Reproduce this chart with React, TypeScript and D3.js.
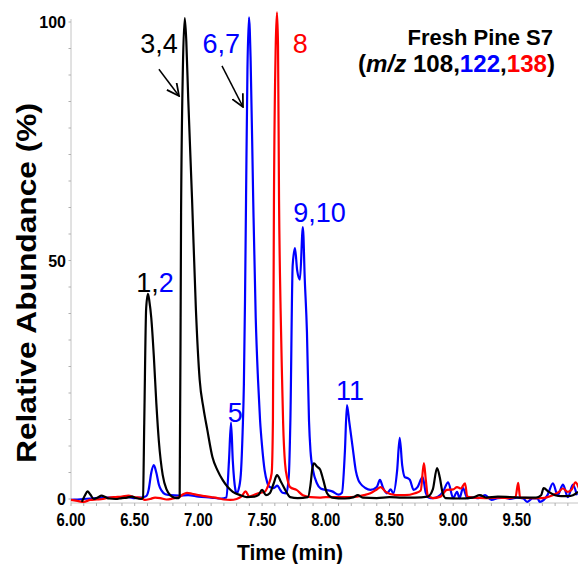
import * as d3 from "d3";

const W = 578;
const H = 564;

// m/z 108 trace (black): [time (min), relative abundance (%)]
const mz108: [number, number][] = [
  [6.085, -0.6], [6.11, 0.8], [6.13, 1.6], [6.15, 1.0], [6.18, 0.0], [6.21, 0.3], [6.24, 0.7],
  [6.27, 0.4], [6.30, 0.1], [6.35, 0.0], [6.40, 0.2], [6.44, 0.3], [6.48, 0.5], [6.51, 0.2],
  [6.55, 0.0], [6.565, 0.3], [6.575, 16], [6.59, 40], [6.604, 43], [6.615, 41.5], [6.63, 38],
  [6.65, 30], [6.67, 20], [6.69, 12], [6.72, 5], [6.75, 2], [6.78, 0.8], [6.81, 0.3],
  [6.845, 0.2], [6.853, 0.5], [6.864, 60], [6.878, 90], [6.893, 100.8], [6.905, 96],
  [6.92, 84], [6.95, 63], [6.98, 40], [7.01, 25], [7.04, 19], [7.07, 14.5], [7.11, 8.8],
  [7.15, 6], [7.19, 4], [7.23, 2.5], [7.27, 1.5], [7.33, 0.8], [7.38, 0.4], [7.44, 0.5],
  [7.47, 0.8], [7.50, 1.9], [7.53, 0.8], [7.56, 1.2], [7.59, 3.2], [7.617, 5], [7.65, 3.5],
  [7.69, 1.5], [7.72, 0.4], [7.78, 0.2], [7.86, 0.4], [7.88, 3], [7.895, 6.5], [7.907, 7.5],
  [7.93, 6.8], [7.955, 6.2], [7.98, 4], [8.01, 1.2], [8.05, 0.3], [8.15, 0.1], [8.22, 0.4],
  [8.25, 0.8], [8.29, 0.3], [8.40, 0.2], [8.50, 0.4], [8.60, 0.3], [8.70, 0.3], [8.80, 0.5],
  [8.84, 2], [8.873, 6.5], [8.895, 4.5], [8.915, 1.5], [8.94, 0.2], [9.05, 0.1], [9.15, 0.3],
  [9.21, 0.8], [9.26, 0.3], [9.35, 0.5], [9.45, 0.4], [9.55, 0.3], [9.65, 0.3], [9.69, 0.8],
  [9.71, 2.3], [9.75, 1.5], [9.80, 0.8], [9.85, 0.6], [9.90, 0.6], [9.94, 0.8], [9.98, 1.5],
];

// m/z 122 trace (blue)
const mz122: [number, number][] = [
  [6.00, -0.2], [6.05, -0.1], [6.10, 0], [6.15, 0.1], [6.20, 0.2], [6.25, 0.3], [6.30, 0.3],
  [6.35, 0.2], [6.40, 0.3], [6.45, 0.4], [6.50, 0.2], [6.55, 0.3], [6.59, 0.6], [6.61, 2],
  [6.63, 5.5], [6.65, 7.1], [6.67, 5.5], [6.69, 3], [6.71, 1.8], [6.74, 1], [6.78, 0.8],
  [6.85, 0.7], [6.92, 0.8], [7.00, 0.5], [7.10, 0.3], [7.18, 0.1], [7.22, 0.3], [7.24, 8],
  [7.256, 16], [7.27, 8], [7.29, 2], [7.30, 1.2], [7.32, 2.5], [7.335, 6], [7.347, 14],
  [7.357, 24], [7.366, 42], [7.374, 63], [7.385, 90], [7.397, 101], [7.41, 92], [7.43, 63],
  [7.45, 38], [7.468, 25], [7.484, 16.5], [7.50, 11], [7.52, 6], [7.54, 3.5], [7.56, 2.5],
  [7.59, 2.3], [7.62, 2.8], [7.64, 2.0], [7.66, 1.3], [7.69, 1.2], [7.71, 5], [7.722, 16.5],
  [7.74, 49], [7.758, 52.6], [7.775, 48], [7.797, 46], [7.82, 57], [7.835, 46], [7.852, 35],
  [7.868, 16.5], [7.88, 10], [7.90, 6], [7.93, 3.3], [7.96, 2.2], [8.00, 1.9], [8.05, 1.6],
  [8.10, 0.9], [8.127, 1.3], [8.15, 10], [8.166, 19.7], [8.185, 16], [8.21, 11], [8.235, 6],
  [8.255, 4], [8.27, 3.3], [8.31, 2.3], [8.35, 1.9], [8.40, 2.5], [8.425, 4], [8.45, 2.3],
  [8.48, 1.2], [8.51, 2], [8.53, 1.2], [8.56, 6], [8.58, 12.8], [8.60, 7], [8.62, 4.6],
  [8.64, 4.4], [8.66, 4], [8.69, 1.9], [8.72, 2.5], [8.76, 4.6], [8.785, 1.3], [8.81, 0.3],
  [8.84, 0.2], [8.88, 0.5], [8.92, 1.5], [8.96, 3.5], [9.00, 0.2], [9.03, 1.5], [9.05, 0.2],
  [9.077, 2.3], [9.11, 0.2], [9.15, 0.3], [9.20, 0.2], [9.25, 0.8], [9.30, -0.2], [9.35, 0.2],
  [9.40, 0.3], [9.45, 0], [9.50, 0.3], [9.55, 0.1], [9.58, -0.6], [9.62, 0.1], [9.66, 0.2],
  [9.68, -0.6], [9.74, 0.8], [9.783, 3.3], [9.82, 0.8], [9.862, 3], [9.90, 0.4], [9.94, 3],
  [9.97, 0.8],
];

// m/z 138 trace (red)
const mz138: [number, number][] = [
  [6.00, -0.2], [6.05, -0.4], [6.10, -0.6], [6.15, -0.2], [6.20, -0.1], [6.25, 0], [6.30, 0.3],
  [6.35, 0.4], [6.40, 0.5], [6.45, 0.7], [6.50, 0.4], [6.55, 0.2], [6.58, -0.2], [6.62, 0],
  [6.66, 0.3], [6.70, 0.2], [6.75, -0.1], [6.80, 0.1], [6.85, 0.4], [6.88, 1.0], [6.91, 1.3],
  [6.95, 1.1], [7.00, 0.8], [7.05, 0.6], [7.10, 0.4], [7.15, 0.2], [7.20, -0.1], [7.25, -0.2],
  [7.30, 0], [7.34, 0.6], [7.37, 1.6], [7.40, 0.5], [7.43, 0.8], [7.47, 1.2], [7.52, 1.5],
  [7.55, 3], [7.575, 5.4], [7.585, 16.5], [7.593, 62.7], [7.607, 95], [7.617, 102],
  [7.625, 95], [7.633, 62.7], [7.645, 40], [7.657, 25], [7.665, 16], [7.68, 7.5], [7.70, 4],
  [7.72, 2.5], [7.77, 1.9], [7.82, 0.8], [7.88, 0.4], [7.95, 0.3], [8.00, 0.4], [8.10, 0.4],
  [8.20, 0.4], [8.30, 0.8], [8.35, 1.2], [8.40, 2], [8.43, 2.5], [8.47, 1.5], [8.55, 0.8],
  [8.62, 0.8], [8.70, 1.2], [8.745, 1.8], [8.77, 7.5], [8.785, 4], [8.80, 0.8], [8.84, 0.2],
  [8.90, 0.5], [8.95, 1.9], [9.00, 2.0], [9.03, 2.5], [9.06, 2.2], [9.093, 3.3], [9.11, 0.5],
  [9.15, 0.3], [9.25, 0.2], [9.35, 0.3], [9.45, 0.2], [9.49, 0.5], [9.51, 3.4], [9.525, 0.3],
  [9.60, 0.2], [9.70, 0.2], [9.78, 0.8], [9.83, 1.5], [9.86, 2.2], [9.90, 1.5], [9.93, 2],
  [9.96, 3.5], [9.99, 2],
];

const xTickValues = [6.0, 6.5, 7.0, 7.5, 8.0, 8.5, 9.0, 9.5];
const yTickValues = [0, 50, 100];

// peak labels: position in data units, text parts with colour
const peakLabels: { t: number; v: number; parts: [string, string][] }[] = [
  { t: 6.66, v: 43.4, parts: [["1,", "#000"], ["2", "#0000ff"]] },
  { t: 6.69, v: 93.5, parts: [["3,4", "#000"]] },
  { t: 7.29, v: 16.1, parts: [["5", "#0000ff"]] },
  { t: 7.18, v: 93.5, parts: [["6,7", "#0000ff"]] },
  { t: 7.80, v: 93.5, parts: [["8", "#ff0000"]] },
  { t: 7.95, v: 58, parts: [["9,10", "#0000ff"]] },
  { t: 8.19, v: 20.8, parts: [["11", "#0000ff"]] },
];

// arrows: from [t, v] to [t, v]
const arrows: [[number, number], [number, number]][] = [
  [[6.69, 90.1], [6.848, 84.5]],
  [[7.185, 90.8], [7.35, 82.2]],
];

export default function App() {
  const x = d3.scaleLinear().domain([6, 10]).range([71, 580.6]);
  const y = d3.scaleLinear().domain([0, 100]).range([499, 22]);
  const axisY = 503;

  const line = d3
    .line<[number, number]>()
    .x((d) => x(d[0]))
    .y((d) => y(d[1]))
    .curve(d3.curveMonotoneX);

  const minorX = d3.range(6, 10.001, 0.1);
  const minorY = d3.range(0, 100.001, 100 / 18);

  const font = "'Liberation Sans', Arial, sans-serif";

  return (
    <svg
      width={W}
      height={H}
      style={{ position: "absolute", left: 0, top: 0, background: "#fff" }}
      fontFamily={font}
    >
      <defs>
        <marker id="arr" viewBox="0 0 10 10" refX="9" refY="5" markerWidth="9" markerHeight="9" orient="auto">
          <path d="M0,0.5 L9,5 L0,9.5" fill="none" stroke="#000" strokeWidth="1.3" />
        </marker>
      </defs>

      {/* y axis */}
      <line x1={71} x2={71} y1={19} y2={axisY} stroke="#c4c4c4" strokeWidth={1} />
      {minorY.map((v, i) => (
        <line key={"ym" + i} x1={68.5} x2={71} y1={y(v)} y2={y(v)} stroke="#b0b0b0" strokeWidth={1} />
      ))}
      {yTickValues.map((v) => (
        <text key={"yt" + v} x={66} y={y(v) + 6} textAnchor="end" fontSize={16} fontWeight="bold">
          {v}
        </text>
      ))}

      {/* x axis */}
      <line x1={71} x2={578} y1={axisY} y2={axisY} stroke="#c4c4c4" strokeWidth={1} />
      {minorX.map((t, i) => (
        <line key={"xm" + i} x1={x(t)} x2={x(t)} y1={axisY} y2={axisY + 3} stroke="#b0b0b0" strokeWidth={1} />
      ))}
      {xTickValues.map((t) => (
        <text
          key={"xt" + t}
          x={x(t)}
          y={526}
          textAnchor="middle"
          fontSize={19}
          fontWeight="bold"
          textLength={29}
          lengthAdjust="spacingAndGlyphs"
        >
          {t.toFixed(2)}
        </text>
      ))}

      {/* axis titles */}
      <text
        transform={`translate(36, 283) rotate(-90)`}
        textAnchor="middle"
        fontSize={27}
        fontWeight="bold"
        textLength={360}
        lengthAdjust="spacingAndGlyphs"
      >
        Relative Abundance (%)
      </text>
      <text x={290} y={560} textAnchor="middle" fontSize={22} fontWeight="bold" textLength={106} lengthAdjust="spacingAndGlyphs">
        Time (min)
      </text>

      {/* traces */}
      <path d={line(mz122) ?? ""} fill="none" stroke="#0000ff" strokeWidth={2.2} strokeLinejoin="round" />
      <path d={line(mz138) ?? ""} fill="none" stroke="#ff0000" strokeWidth={2.2} strokeLinejoin="round" />
      <path d={line(mz108) ?? ""} fill="none" stroke="#000" strokeWidth={2.2} strokeLinejoin="round" />

      {/* peak labels */}
      {peakLabels.map((p, i) => (
        <text key={"pl" + i} x={x(p.t)} y={y(p.v)} textAnchor="middle" fontSize={27}>
          {p.parts.map(([s, c], j) => (
            <tspan key={j} fill={c}>
              {s}
            </tspan>
          ))}
        </text>
      ))}
      {arrows.map(([a, b], i) => (
        <line
          key={"ar" + i}
          x1={x(a[0])}
          y1={y(a[1])}
          x2={x(b[0])}
          y2={y(b[1])}
          stroke="#000"
          strokeWidth={1.5}
          markerEnd="url(#arr)"
        />
      ))}

      {/* title */}
      <text x={553} y={45} textAnchor="end" fontSize={22} fontWeight="bold">
        Fresh Pine S7
      </text>
      <text x={555} y={72} textAnchor="end" fontSize={23} fontWeight="bold" textLength={197} lengthAdjust="spacingAndGlyphs">
        (<tspan fontStyle="italic">m/z</tspan> 108,<tspan fill="#0000ff">122</tspan>,<tspan fill="#ff0000">138</tspan>)
      </text>
    </svg>
  );
}
